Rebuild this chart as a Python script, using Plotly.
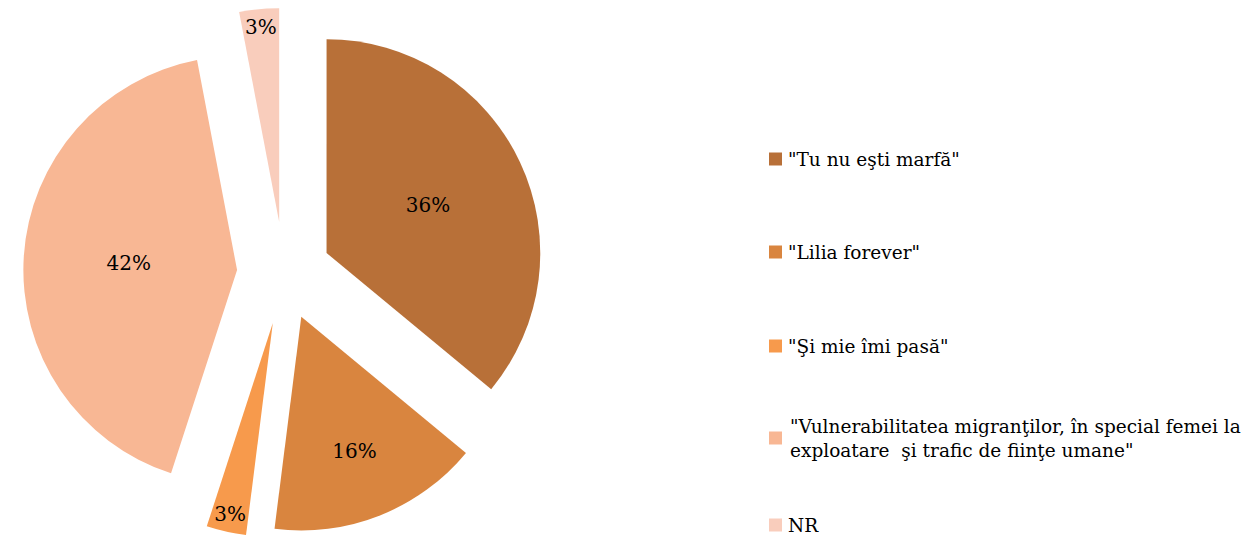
import plotly.graph_objects as go

labels = ['"Tu nu eşti marfă"', '"Lilia forever"', '"Şi mie îmi pasă"',
          '"Vulnerabilitatea migranţilor, în special femei la<br>exploatare  şi trafic de fiinţe umane"',
          'NR']
values = [36, 16, 3, 42, 3]
colors = ['#B87038', '#D9853F', '#F79A4C', '#F8B794', '#F9CDBC']
pulls = [0.22, 0.22, 0.24, 0.22, 0.24]

# page body has an 8px margin; figure is sized/offset to fit the 1255x538 window
OFF = 8
W, H = 1255 - OFF, 538 - OFF
FONT = "DejaVu Serif"


def px(x):
    return (x - OFF) / W


def py(y):
    return 1 - (y - OFF) / H


fig = go.Figure()
fig.add_trace(go.Pie(
    labels=labels, values=values, sort=False, direction='clockwise', rotation=0,
    marker=dict(colors=colors, line=dict(width=0)),
    pull=pulls, textinfo='percent', texttemplate='%{percent:.0%}',
    textposition='inside', insidetextorientation='horizontal',
    textfont=dict(family=FONT, size=20, color='black'),
    domain=dict(x=[0, 2 * (284 - OFF) / W], y=[0, 1]),
    showlegend=False, hoverinfo='label+percent'
))

# custom legend built from labels / colors
legend_y = [159, 252, 346, 438, 525]
shapes = []
annotations = []
for lab, col, yc in zip(labels, colors, legend_y):
    shapes.append(dict(type='rect', xref='paper', yref='paper',
                       x0=px(769), x1=px(782), y0=py(yc + 6.5), y1=py(yc - 6.5),
                       fillcolor=col, line=dict(width=0)))
    annotations.append(dict(x=px(786 if '<br>' not in lab else 788), y=py(yc),
                            xref='paper', yref='paper', xanchor='left', yanchor='middle',
                            text=lab, showarrow=False, align='left',
                            font=dict(family=FONT, size=18.5, color='black')))

fig.update_layout(
    width=W, height=H, margin=dict(l=0, r=0, t=0, b=0),
    paper_bgcolor='white', plot_bgcolor='white',
    shapes=shapes, annotations=annotations,
    uniformtext=dict(minsize=20, mode='show'),
)
fig.write_html("out.html")
